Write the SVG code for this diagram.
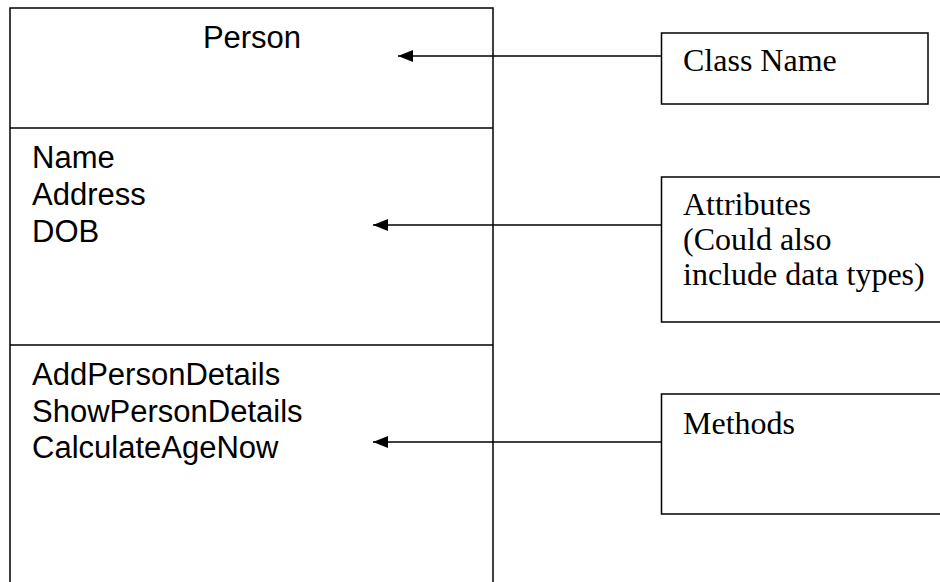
<svg xmlns="http://www.w3.org/2000/svg" width="940" height="582" viewBox="0 0 940 582">
  <style>
    .box { fill: #ffffff; stroke: #000000; stroke-width: 1.5; }
    .edge { fill: none; stroke: #000000; stroke-width: 1.5; }
    .sans { font-family: "Liberation Sans", Arial, sans-serif; font-size: 31px; fill: #000000; }
    .serif { font-family: "Liberation Serif", "Times New Roman", serif; font-size: 32px; fill: #000000; }
  </style>
  <defs>
    <marker id="arrow" markerUnits="userSpaceOnUse" markerWidth="16" markerHeight="12" refX="15" refY="6" orient="auto">
      <path d="M0,0 L15,6 L0,12 Z" fill="#000000"/>
    </marker>
  </defs>
  <rect width="940" height="582" fill="#ffffff"/>

  <!-- UML class box: name / attributes / operations -->
  <g id="class-person">
    <rect class="box" x="10" y="8" width="483" height="590"/>
    <line class="edge" x1="10" y1="128" x2="493" y2="128"/>
    <line class="edge" x1="10" y1="345" x2="493" y2="345"/>
    <text class="sans" x="252" y="48" text-anchor="middle">Person</text>
    <text class="sans" x="32" y="168">Name</text>
    <text class="sans" x="32" y="205">Address</text>
    <text class="sans" x="32" y="242">DOB</text>
    <text class="sans" x="32" y="385">AddPersonDetails</text>
    <text class="sans" x="32" y="422">ShowPersonDetails</text>
    <text class="sans" x="32" y="458">CalculateAgeNow</text>
  </g>

  <!-- callout labels -->
  <g id="label-class-name">
    <rect class="box" x="661.5" y="33" width="266.5" height="71"/>
    <text class="serif" x="683" y="71">Class Name</text>
  </g>
  <g id="label-attributes">
    <rect class="box" x="661.5" y="177" width="300" height="145"/>
    <text class="serif" x="683" y="215">Attributes</text>
    <text class="serif" x="683" y="250">(Could also</text>
    <text class="serif" x="683" y="285">include data types)</text>
  </g>
  <g id="label-methods">
    <rect class="box" x="661.5" y="394" width="300" height="120"/>
    <text class="serif" x="683" y="434">Methods</text>
  </g>

  <!-- pointers from callouts into the class box -->
  <g id="connectors">
    <line class="edge" x1="661.5" y1="56" x2="398" y2="56" marker-end="url(#arrow)"/>
    <line class="edge" x1="661.5" y1="225" x2="373" y2="225" marker-end="url(#arrow)"/>
    <line class="edge" x1="661.5" y1="442" x2="373" y2="442" marker-end="url(#arrow)"/>
  </g>
</svg>
